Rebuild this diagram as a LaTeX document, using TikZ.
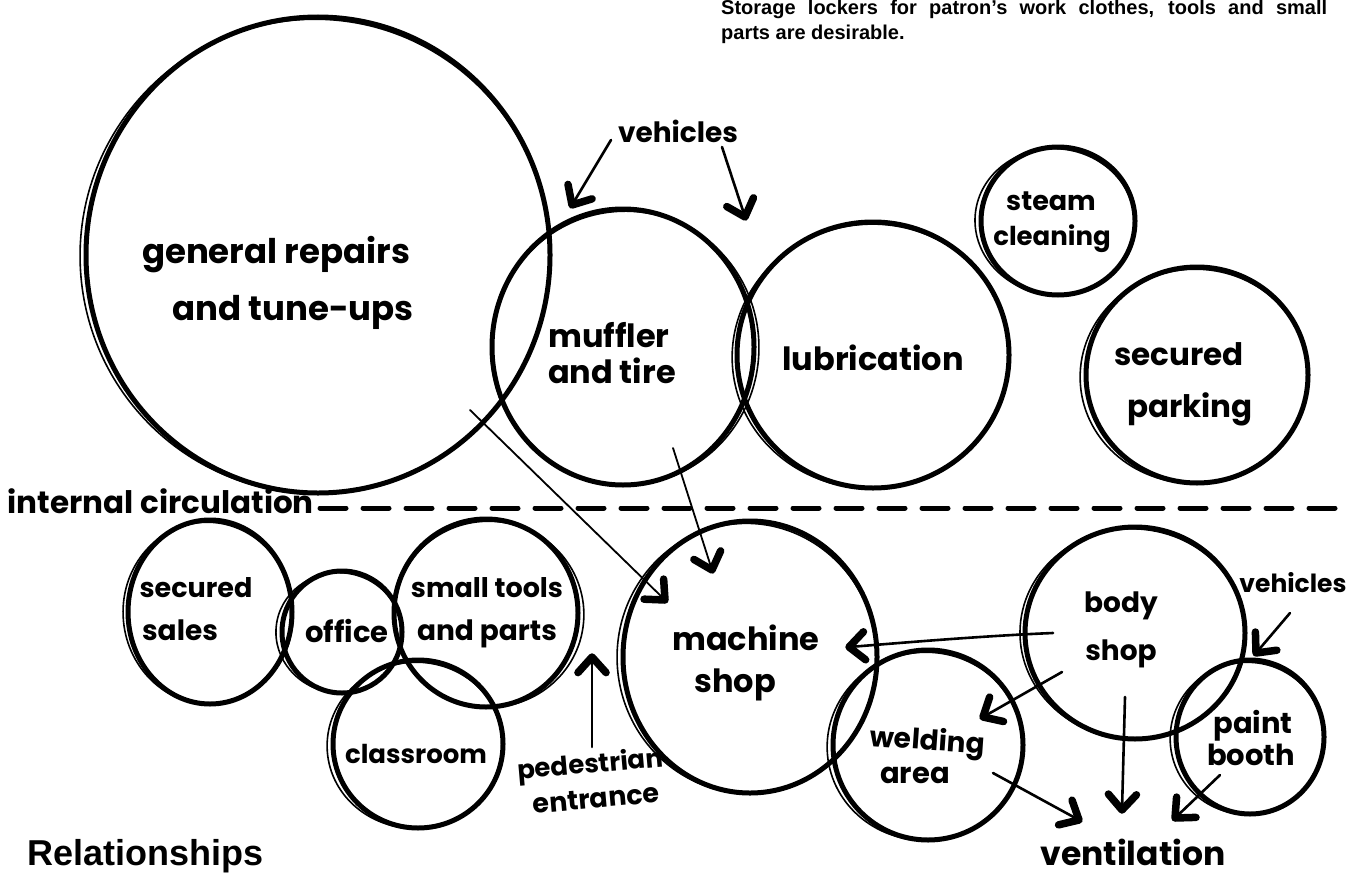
\documentclass[tikz,border=0pt]{standalone}
\usepackage{fontspec}
\usetikzlibrary{shapes.geometric,calc}
\newfontfamily\hand{Poppins}
\newfontfamily\print{Liberation Sans}

% a hand-sketched zone: thick outline plus a thin second stroke
% #1 name, #2 #3 centre, #4 #5 radii, #6 offset of the second stroke, #7 its rotation
\newcommand\sketchzone[7]{%
  \node[zone, minimum width=#4*2pt, minimum height=#5*2pt] (#1) at (#2,#3) {};
  \draw[ghost, shift={(#2,#3)}, rotate=#7] (#6,1) ellipse [x radius=#4+3, y radius=#5-1];
}
% heavy marker chevron at #2, opening back towards #1
\newcommand\chev[2]{%
  \draw[head] ($(#2)!21pt!42:(#1)$) -- (#2) -- ($(#2)!21pt!-42:(#1)$);
}

\begin{document}
\begin{tikzpicture}[x=1pt,y=-1pt,
  zone/.style={ellipse, draw, line width=5pt, inner sep=0pt, outer sep=0pt},
  ghost/.style={line width=1.6pt},
  lbl/.style={font=\hand\bfseries\fontsize{#1}{#1}\selectfont, inner sep=0pt, anchor=base},
  link/.style={line width=2.6pt, line cap=round},
  thinlink/.style={line width=1.8pt, line cap=round},
  head/.style={line width=7.5pt, line cap=round, line join=round},
  circline/.style={line width=5pt, line cap=round, dash pattern=on 26pt off 17pt},
  note/.style={font=\print\bfseries\fontsize{20}{24}\selectfont, inner sep=0pt, anchor=base west},
]
\fill[white] (0,0) rectangle (1351,875);
\useasboundingbox (0,0) rectangle (1351,875);

% ---- upper zones ----
\sketchzone{gr}{318}{255}{232}{238}{-3}{4}
\sketchzone{mt}{623}{347}{131}{138}{2}{-5}
\sketchzone{lu}{873}{355}{136}{133}{-2}{5}
\sketchzone{st}{1058}{221}{77}{74}{-3}{-6}
\sketchzone{sp}{1197}{375}{111}{108}{-3}{4}

% ---- lower zones ----
\sketchzone{ss}{210}{612}{82}{92}{-2}{5}
\sketchzone{of}{342}{632}{60}{61}{-3}{-6}
\sketchzone{sm}{486}{613}{92}{94}{3}{-5}
\sketchzone{cl}{418}{744}{85}{84}{-3}{4}
\sketchzone{ms}{750}{657}{127}{136}{-3}{6}
\sketchzone{bs}{1135}{633}{110}{106}{-2}{-4}
\sketchzone{wa}{928}{745}{95}{95}{-3}{5}
\sketchzone{pb}{1250}{737}{74}{77}{-3}{6}

% ---- labels ----
\node[lbl=34] (grA) at (276,263) {general repairs};
\node[lbl=34] (grB) at (293,320) {and tune-ups};
\node[lbl=28] (vehA) at (678,142) {vehicles};
\node[lbl=32] (mtA) at (609,347) {muffler};
\node[lbl=32] (mtB) at (612,383) {and tire};
\node[lbl=32] (luA) at (873,370) {lubrication};
\node[lbl=27] (stA) at (1051,210) {steam};
\node[lbl=26] (stB) at (1052,245) {cleaning};
\node[lbl=31] (spA) at (1179,365) {secured};
\node[lbl=31] (spB) at (1190,417) {parking};
\node[lbl=31, anchor=base east] (ic) at (314,513) {internal circulation};
\node[lbl=27] (ssA) at (196,597) {secured};
\node[lbl=28] (ssB) at (180,640) {sales};
\node[lbl=29] (ofA) at (347,642) {office};
\node[lbl=27] (smA) at (487,597) {small tools};
\node[lbl=28] (smB) at (487,640) {and parts};
\node[lbl=26] (clA) at (416,763) {classroom};
\node[lbl=26, rotate=5] (peA) at (591,773) {pedestrian};
\node[lbl=27, rotate=5] (peB) at (597,808) {entrance};
\node[lbl=32] (msA) at (746,650) {machine};
\node[lbl=32] (msB) at (735,692) {shop};
\node[lbl=28] (bsA) at (1121,612) {body};
\node[lbl=28] (bsB) at (1121,660) {shop};
\node[lbl=25] (vehB) at (1293,592) {vehicles};
\node[lbl=28, rotate=-4] (waA) at (927,750) {welding};
\node[lbl=29] (waB) at (915,783) {area};
\node[lbl=29] (pbA) at (1253,733) {paint};
\node[lbl=29] (pbB) at (1251,765) {booth};
\node[lbl=33] (vent) at (1133,865) {ventilation};

% ---- internal circulation line ----
\coordinate (icEnd) at (1345,508);
\draw[circline] ([xshift=6pt,yshift=5pt]ic.base east) -- (icEnd);

% ---- arrows: shaft from start to tip, chevron at the tip ----
\coordinate (a1s) at (611,140);  \coordinate (a1t) at (572,205);
\coordinate (a2s) at (722,147);  \coordinate (a2t) at (745,217);
\coordinate (a3s) at (470,410);  \coordinate (a3t) at (665,600);
\coordinate (a4s) at (673,448);  \coordinate (a4t) at (712,570);
\coordinate (a5s) at (592,747);  \coordinate (a5t) at (592,657);
\coordinate (a6s) at (1053,633); \coordinate (a6t) at (849,647);
\coordinate (a6c) at (900,643);
\coordinate (a7s) at (1062,672); \coordinate (a7t) at (983,717);
\coordinate (a8s) at (1125,697); \coordinate (a8t) at (1122,810);
\coordinate (a9s) at (993,773);  \coordinate (a9t) at (1079,820);
\coordinate (a10s) at (1220,775); \coordinate (a10t) at (1175,818);
\coordinate (a11s) at (1290,613); \coordinate (a11t) at (1256,653);

\draw[link] (a1s) -- (a1t);            \chev{a1s}{a1t}
\draw[link] (a2s) -- (a2t);            \chev{a2s}{a2t}
\draw[thinlink] (a3s) -- (a3t);        \chev{a3s}{a3t}
\draw[thinlink] (a4s) -- (a4t);        \chev{a4s}{a4t}
\draw[link] (a5s) -- (a5t);            \chev{a5s}{a5t}
\draw[link] (a6s) .. controls (980,636) and (a6c) .. (a6t); \chev{a6c}{a6t}
\draw[link] (a7s) -- (a7t);            \chev{a7s}{a7t}
\draw[link] (a8s) -- (a8t);            \chev{a8s}{a8t}
\draw[link] (a9s) -- (a9t);            \chev{a9s}{a9t}
\draw[link] (a10s) -- (a10t);          \chev{a10s}{a10t}
\draw[link] (a11s) -- (a11t);          \chev{a11s}{a11t}

% ---- printed text ----
\node[note] (noteA) at (721,15) {\makebox[606pt][s]{Storage lockers for patron’s work clothes, tools and small}};
\node[note] (noteB) at (721,40) {parts are desirable.};
\node[inner sep=0pt, anchor=base west, font=\print\bfseries\fontsize{36}{36}\selectfont] (title) at (27,865) {Relationships};
\end{tikzpicture}
\end{document}
